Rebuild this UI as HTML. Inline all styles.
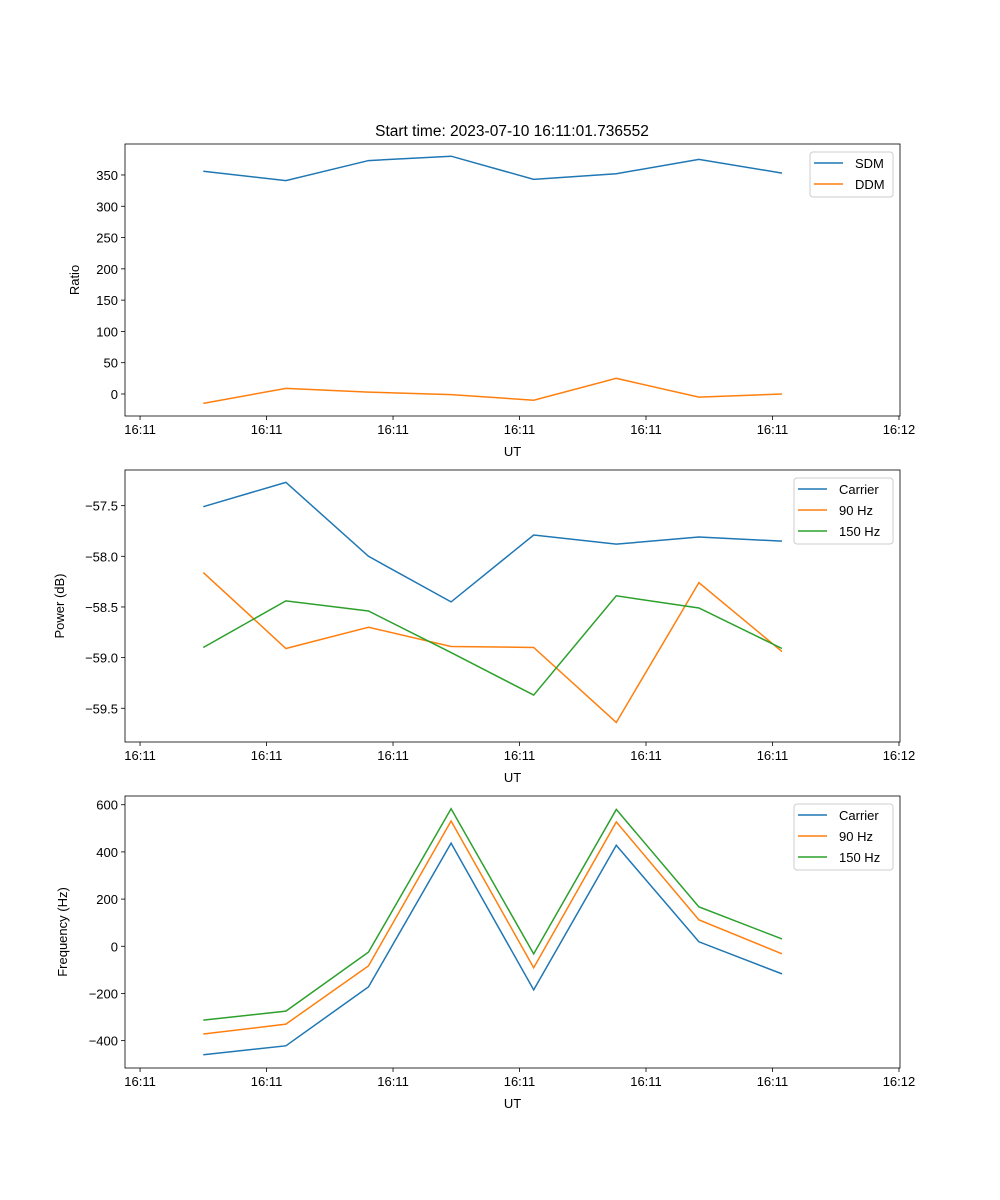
<!DOCTYPE html>
<html><head><meta charset="utf-8"><style>
html,body{margin:0;padding:0;background:#fff}
svg{display:block;font-family:"Liberation Sans","DejaVu Sans",sans-serif}
</style></head><body>
<svg id="fig" width="1000" height="1200" viewBox="0 0 1000 1200" xmlns="http://www.w3.org/2000/svg">
<text x="512" y="136" font-size="15.5" text-anchor="middle">Start time: 2023-07-10 16:11:01.736552</text>
</svg>
<script>
const times = [0.5, 1.153, 1.806, 2.459, 3.112, 3.765, 4.418, 5.075];
const xTickVals = [0, 1, 2, 3, 4, 5, 6];
const xTickLabels = ["16:11","16:11","16:11","16:11","16:11","16:11","16:12"];
const sdm = [356, 341, 373, 380, 343, 352, 375, 353];
const ddm = [-15, 9, 3, -1, -10, 25, -5, 0];
const powCarrier = [-57.51, -57.27, -58.0, -58.45, -57.79, -57.88, -57.81, -57.85];
const pow90 = [-58.16, -58.91, -58.70, -58.89, -58.90, -59.64, -58.26, -58.94];
const pow150 = [-58.90, -58.44, -58.54, -58.95, -59.37, -58.39, -58.51, -58.91];
const freqCarrier = [-460, -422, -172, 437, -185, 428, 19, -117];
const freq90 = [-372, -330, -83, 531, -91, 527, 112, -32];
const freq150 = [-313, -275, -25, 583, -32, 580, 167, 31];
const ratioTicks = [0, 50, 100, 150, 200, 250, 300, 350];
const powTicks = [-57.5, -58.0, -58.5, -59.0, -59.5];
const freqTicks = [600, 400, 200, 0, -200, -400];

const NS = "http://www.w3.org/2000/svg";
const svg = document.getElementById("fig");
const C = ["#1f77b4", "#ff7f0e", "#2ca02c"];
function mk(tag, attrs, parent) {
  const e = document.createElementNS(NS, tag);
  for (const k in attrs) e.setAttribute(k, attrs[k]);
  (parent || svg).appendChild(e);
  return e;
}
const L = 125, R = 900, XMIN = -0.119, XMAX = 6.008;
const xs = t => L + (t - XMIN) / (XMAX - XMIN) * (R - L);

function panel(id, top, bottom, ymin, ymax, ticks, fmt, ylabel, ylx, series, names, legW) {
  const g = mk("g", {});
  
  
  const ys = v => bottom - (v - ymin) / (ymax - ymin) * (bottom - top);
  series.forEach((s, i) => {
    const p = mk("polyline", {points: s.map((v, j) => xs(times[j]) + "," + ys(v)).join(" "), fill: "none", stroke: C[i], "stroke-width": 1.5}, g);
    
    
  });
  const f = mk("rect", {x: L, y: top, width: R - L, height: bottom - top, fill: "none", stroke: "#000", "stroke-width": 0.8}, g);
  
  
  xTickVals.forEach((t, i) => {
    const x = xs(t);
    mk("line", {x1: x, x2: x, y1: bottom, y2: bottom + 4, stroke: "#000", "stroke-width": 0.8}, g);
    const tx = mk("text", {x: x, y: bottom + 18, "font-size": 13, "text-anchor": "middle"}, g);
    tx.textContent = xTickLabels[i];
    
    
  });
  ticks.forEach(v => {
    const y = ys(v);
    mk("line", {x1: L - 4, x2: L, y1: y, y2: y, stroke: "#000", "stroke-width": 0.8}, g);
    const tx = mk("text", {x: L - 7, y: y + 5, "font-size": 13, "text-anchor": "end"}, g);
    tx.textContent = fmt(v);
    
    
  });
  const xl = mk("text", {x: (L + R) / 2, y: bottom + 40, "font-size": 13, "text-anchor": "middle"}, g);
  xl.textContent = "UT";
  
  
  const cy = (top + bottom) / 2;
  const yl = mk("text", {x: 0, y: 0, "font-size": 13, "text-anchor": "middle", transform: `translate(${ylx},${cy}) rotate(-90)`}, g);
  yl.textContent = ylabel;
  
  
  const lx = R - 7 - legW, ly = top + 8, lh = 3 + names.length * 21;
  const lg = mk("g", {}, g);
  
  
  mk("rect", {x: lx, y: ly, width: legW, height: lh, rx: 3, fill: "#fff", "fill-opacity": 0.8, stroke: "#ccc"}, lg);
  names.forEach((n, i) => {
    const yy = ly + 11 + i * 21;
    mk("line", {x1: lx + 4, x2: lx + 33, y1: yy, y2: yy, stroke: C[i], "stroke-width": 1.5}, lg);
    const t = mk("text", {x: lx + 45, y: yy + 5, "font-size": 13}, lg);
    t.textContent = n;
    
    
  });
}
const fmtRatio = v => String(v);
const fmtMinus = d => v => (v < 0 ? "\u2212" : "") + Math.abs(v).toFixed(d);
panel("ratio", 144, 416, -35.2, 399.5, ratioTicks, fmtRatio, "Ratio", 79, [sdm, ddm], ["SDM", "DDM"], 83);
panel("power", 470, 742, -59.833, -57.148, powTicks, fmtMinus(1), "Power (dB)", 64, [powCarrier, pow90, pow150], ["Carrier", "90 Hz", "150 Hz"], 99);
panel("frequency", 796, 1068, -516, 637, freqTicks, fmtMinus(0), "Frequency (Hz)", 67, [freqCarrier, freq90, freq150], ["Carrier", "90 Hz", "150 Hz"], 99);
</script>
</body></html>
